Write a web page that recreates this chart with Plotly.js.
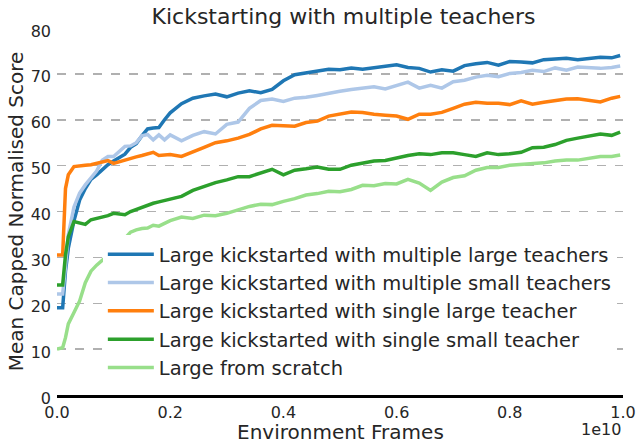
<!DOCTYPE html>
<html>
<head>
<meta charset="utf-8">
<script src="https://cdn.plot.ly/plotly-3.0.1.min.js"></script>
<style>html,body{margin:0;padding:0;background:#fff;}#chart{width:642px;height:447px;}</style>
</head>
<body>
<div id="chart"></div>
<script>
// Environment frames (units of 1e10)
const frames = [0, 0.01, 0.015, 0.02, 0.03, 0.04, 0.05, 0.06, 0.07, 0.08, 0.09, 0.10, 0.11, 0.12, 0.13, 0.14, 0.15, 0.16, 0.17, 0.18, 0.19, 0.20, 0.22, 0.24, 0.26, 0.28, 0.30, 0.32, 0.34, 0.36, 0.38, 0.40, 0.42, 0.44, 0.46, 0.48, 0.50, 0.52, 0.54, 0.56, 0.58, 0.60, 0.62, 0.64, 0.66, 0.68, 0.70, 0.72, 0.74, 0.76, 0.78, 0.80, 0.82, 0.84, 0.86, 0.88, 0.90, 0.92, 0.94, 0.96, 0.98, 0.995];

const multiLarge = [19, 19, 27, 32, 38, 42.5, 45, 47, 48, 49.2, 50.2, 51, 51.8, 52.5, 54, 54.8, 56.5, 58, 58.2, 58.3, 60, 61.5, 63.5, 64.7, 65.2, 65.6, 65.0, 65.8, 66.3, 65.9, 66.6, 68.5, 69.8, 70.2, 70.6, 71.0, 70.9, 71.3, 71.0, 71.3, 71.6, 72.0, 71.4, 71.2, 70.4, 70.9, 70.6, 71.8, 72.2, 72.5, 71.9, 72.7, 72.6, 72.4, 73.1, 73.2, 73.4, 73.1, 73.4, 73.6, 73.5, 74.0];

const multiSmall = [22, 22, 28, 35, 41, 44, 45.8, 47.2, 48.8, 51.2, 52, 52, 53.2, 54.2, 54.3, 55, 56.5, 56.8, 55.6, 56.7, 55.6, 56.7, 55.4, 56.6, 57.4, 56.9, 59.0, 59.5, 62.5, 64.2, 64.5, 64.0, 64.7, 64.9, 65.3, 65.8, 66.2, 66.6, 66.9, 67.2, 66.7, 67.4, 68.2, 66.9, 67.5, 66.9, 68.3, 68.6, 69.3, 69.7, 69.4, 70.1, 70.3, 70.8, 70.5, 71.3, 70.8, 71.5, 71.3, 71.2, 71.4, 71.7];

const singleLarge = [30.5, 30.5, 45, 48, 49.8, 50, 50.1, 50.2, 50.5, 50.9, 51.1, 50.5, 50.9, 51.3, 51.5, 51.9, 52.2, 52.6, 52.9, 52.2, 52.3, 52.4, 52.0, 52.9, 54.0, 55.0, 55.4, 56.0, 56.8, 58.0, 58.8, 58.7, 58.6, 59.4, 59.7, 60.8, 61.3, 61.7, 61.6, 61.2, 61.0, 60.8, 60.1, 61.2, 61.2, 61.6, 62.5, 63.4, 63.8, 63.6, 63.6, 63.3, 64.1, 63.4, 63.8, 64.2, 64.5, 64.6, 64.3, 63.9, 64.7, 65.1];

const singleSmall = [24, 24, 30.5, 34.5, 37.8, 37.5, 37.2, 38.2, 38.5, 38.9, 39.1, 39.6, 39.4, 39.3, 40, 40.5, 41, 41.4, 41.8, 42.1, 42.4, 42.8, 43.3, 44.6, 45.4, 46.3, 46.9, 47.6, 47.6, 48.5, 49.2, 48.0, 49.0, 49.3, 49.7, 49.2, 49.2, 50.1, 50.6, 51.0, 51.1, 51.7, 52.2, 52.6, 52.4, 52.8, 52.8, 52.4, 52.0, 52.8, 52.4, 52.6, 52.9, 53.9, 54.0, 54.6, 55.5, 56.0, 56.4, 56.9, 56.6, 57.3];

const scratch = [10, 10.3, 12.5, 15.5, 18, 20.5, 24.5, 27, 28.3, 29.3, 30.3, 31.5, 32.8, 34.1, 35.5, 36.0, 36.3, 36.4, 37.0, 36.8, 37.5, 38.0, 38.8, 38.5, 39.2, 39.1, 39.6, 40.4, 41.1, 41.6, 41.5, 42.2, 42.8, 43.6, 43.9, 44.4, 44.3, 44.8, 45.7, 45.6, 46.1, 46.0, 47.0, 46.2, 44.6, 46.4, 47.4, 47.8, 49.0, 49.6, 49.6, 50.1, 50.3, 50.5, 50.6, 51.0, 51.2, 51.2, 51.6, 52.0, 52.0, 52.3];

const seriesNames = [
  "Large kickstarted with multiple large teachers",
  "Large kickstarted with multiple small teachers",
  "Large kickstarted with single large teacher",
  "Large kickstarted with single small teacher",
  "Large from scratch"
];
const seriesValues = [multiLarge, multiSmall, singleLarge, singleSmall, scratch];
const seriesColors = ["#1f77b4", "#aec7e8", "#ff7f0e", "#2ca02c", "#98df8a"];

const xTickVals = [0, 0.2, 0.4, 0.6, 0.8, 1.0];
const xTickText = ["0.0", "0.2", "0.4", "0.6", "0.8", "1.0"];
const yTickVals = [0, 10, 20, 30, 40, 50, 60, 70, 80];

const FONT = "DejaVu Sans, Arial, sans-serif";
const TXT = "#262626";

const traces = seriesValues.map((vals, i) => ({
  x: frames,
  y: vals,
  type: "scatter",
  mode: "lines",
  name: seriesNames[i],
  line: {color: seriesColors[i], width: 3.5},
  hoverinfo: "skip"
}));

const layout = {
  width: 642,
  height: 447,
  margin: {l: 57, r: 19, t: 28, b: 52},
  paper_bgcolor: "#ffffff",
  plot_bgcolor: "#ffffff",
  font: {family: FONT, color: TXT, size: 16},
  title: {
    text: "Kickstarting with multiple teachers",
    font: {family: FONT, size: 22, color: TXT},
    x: 0.535, xanchor: "center", y: 0.963, yanchor: "middle"
  },
  xaxis: {
    range: [0, 1.0],
    tickvals: xTickVals,
    ticktext: xTickText,
    showgrid: false,
    zeroline: false,
    showline: true,
    linecolor: "#000000",
    linewidth: 2.5,
    ticks: "",
    ticklabelstandoff: 1,
    tickfont: {family: FONT, size: 16, color: TXT}
  },
  yaxis: {
    range: [0, 80],
    tickvals: yTickVals,
    showgrid: true,
    gridcolor: "#b0b0b0",
    griddash: "dash",
    gridwidth: 1.5,
    zeroline: false,
    showline: false,
    ticks: "",
    ticklabelstandoff: 5,
    ticklabelshift: 3,
    tickfont: {family: FONT, size: 16, color: TXT},
    title: {text: "Mean Capped Normalised Score", font: {family: FONT, size: 20, color: TXT}, standoff: 1}
  },
  showlegend: true,
  legend: {
    x: 0.081, xanchor: "left",
    y: 0.436, yanchor: "top",
    bgcolor: "rgba(255,255,255,1)",
    borderwidth: 0,
    font: {family: FONT, size: 19.5, color: TXT},
    traceorder: "normal",
    itemwidth: 46
  },
  annotations: [
    {
      text: "Environment Frames",
      xref: "paper", yref: "paper",
      x: 0.5, y: -0.1,
      xanchor: "center", yanchor: "middle",
      showarrow: false,
      font: {family: FONT, size: 20, color: TXT}
    },
    {
      text: "1e10",
      xref: "paper", yref: "paper",
      x: 1.0, y: -0.093,
      xanchor: "right", yanchor: "middle",
      showarrow: false,
      font: {family: FONT, size: 16, color: TXT}
    }
  ]
};

Plotly.newPlot("chart", traces, layout, {displayModeBar: false, staticPlot: true});
</script>
</body>
</html>
